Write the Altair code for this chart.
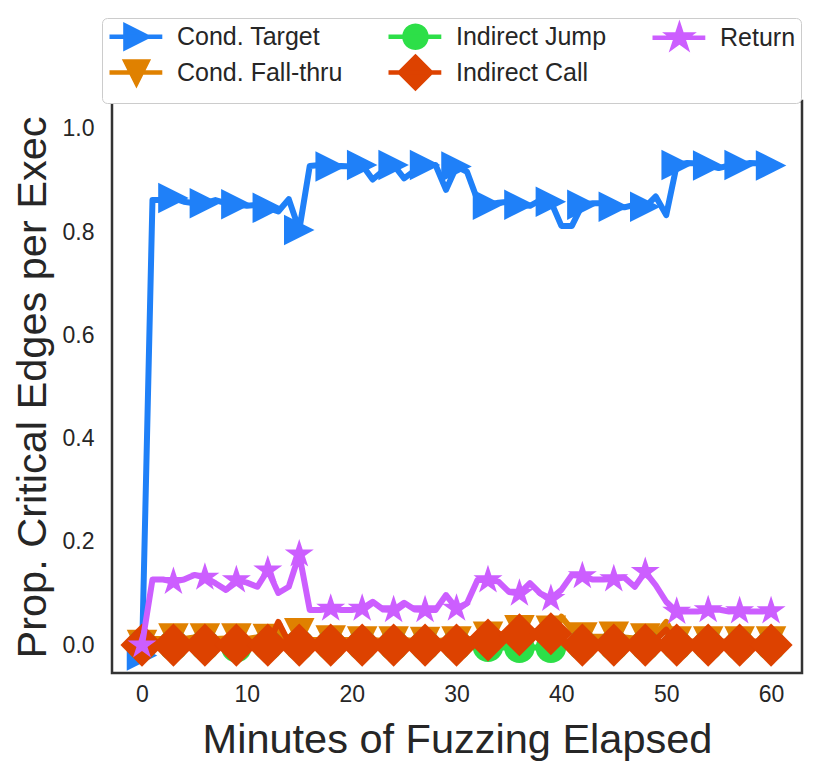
import math
import altair as alt
import pandas as pd

# ---------------- data ----------------
minutes = list(range(61))

cond_target = [-0.02, 0.862, 0.862, 0.866, 0.859, 0.856, 0.856, 0.862, 0.856, 0.854,
               0.851, 0.853, 0.847, 0.840, 0.864, 0.804, 0.928, 0.930, 0.927, 0.928,
               0.927, 0.930, 0.902, 0.919, 0.930, 0.904, 0.919, 0.930, 0.930, 0.882,
               0.927, 0.917, 0.862, 0.853, 0.857, 0.859, 0.853, 0.851, 0.862, 0.859,
               0.812, 0.812, 0.853, 0.856, 0.856, 0.849, 0.848, 0.853, 0.849, 0.869,
               0.833, 0.930, 0.934, 0.933, 0.929, 0.924, 0.929, 0.930, 0.934, 0.933,
               0.929]

cond_fallthru = [0.0, 0.012, 0.012, 0.013, 0.012, 0.015, 0.013, 0.012, 0.013, 0.013,
                 0.012, 0.015, 0.012, 0.025, 0.010, 0.023, 0.010, 0.010, 0.009, 0.010,
                 0.010, 0.007, 0.010, 0.008, 0.007, 0.010, 0.008, 0.006, 0.007, 0.010,
                 0.007, 0.010, 0.015, 0.016, 0.020, 0.025, 0.029, 0.025, 0.028, 0.028,
                 0.055, 0.030, 0.015, 0.016, 0.016, 0.016, 0.015, 0.013, 0.013, 0.020,
                 0.045, 0.007, 0.007, 0.007, 0.007, 0.007, 0.007, 0.007, 0.007, 0.007,
                 0.007]

indirect_jump = [0.0, 0.0, 0.0, 0.0, 0.0, 0.0, 0.0, 0.0, 0.0, -0.004,
                 0.0, 0.0, 0.0, 0.0, 0.0, 0.0, 0.0, 0.0, 0.0, 0.0,
                 0.0, 0.0, 0.0, 0.0, 0.0, 0.0, 0.0, 0.0, 0.0, 0.0,
                 0.0, 0.0, 0.0, -0.003, -0.004, -0.005, -0.005, -0.004, -0.005, -0.005,
                 -0.003, 0.0, 0.0, 0.0, 0.0, 0.0, 0.0, 0.0, 0.0, 0.0,
                 0.0, 0.0, 0.0, 0.0, 0.0, 0.0, 0.0, 0.0, 0.0, 0.0,
                 0.0]

indirect_call = [0.0, 0.0, 0.0, 0.0, 0.0, 0.0, 0.0, 0.0, 0.0, 0.0,
                 0.0, 0.0, 0.0, 0.045, 0.005, 0.0, 0.0, 0.0, 0.0, 0.0,
                 0.0, 0.0, 0.0, 0.0, 0.0, 0.0, 0.0, 0.0, 0.0, 0.0,
                 0.0, 0.0, 0.0, 0.010, 0.015, 0.020, 0.020, 0.018, 0.020, 0.022,
                 0.010, 0.0, 0.0, 0.0, 0.0, 0.0, 0.0, 0.0, 0.0, 0.010,
                 0.030, 0.0, 0.0, 0.0, 0.0, 0.0, 0.0, 0.0, 0.0, 0.0,
                 0.0]

ret = [0.0, 0.127, 0.127, 0.123, 0.127, 0.136, 0.131, 0.120, 0.107, 0.126,
       0.121, 0.113, 0.145, 0.101, 0.113, 0.176, 0.068, 0.068, 0.071, 0.068,
       0.068, 0.071, 0.084, 0.069, 0.068, 0.082, 0.069, 0.068, 0.068, 0.097,
       0.071, 0.081, 0.126, 0.126, 0.123, 0.103, 0.100, 0.120, 0.100, 0.090,
       0.107, 0.136, 0.134, 0.127, 0.127, 0.128, 0.131, 0.113, 0.142, 0.116,
       0.084, 0.065, 0.065, 0.065, 0.068, 0.069, 0.065, 0.066, 0.065, 0.065,
       0.066]

series_names = ["Cond. Target", "Cond. Fall-thru", "Indirect Jump", "Indirect Call", "Return"]
series_values = [cond_target, cond_fallthru, indirect_jump, indirect_call, ret]
series_colors = ["#1f80f8", "#e08100", "#2ddf48", "#dd4200", "#cc5eff"]
x_ticks = [0, 10, 20, 30, 40, 50, 60]
y_ticks = [0.0, 0.2, 0.4, 0.6, 0.8, 1.0]

rows = []
for name, vals in zip(series_names, series_values):
    for m, v in zip(minutes, vals):
        rows.append({"minute": m, "value": v, "series": name})
df = pd.DataFrame(rows)

# ---------------- marker shapes ----------------
def poly(points, dx=0.0):
    return "M" + "L".join(f"{x + dx:.3f},{y:.3f}" for x, y in points) + "Z"

def star_points():
    pts = []
    for k in range(10):
        r = 1.0 if k % 2 == 0 else 0.382
        a = math.radians(-90 + 36 * k)
        pts.append((r * math.cos(a), r * math.sin(a)))
    return pts

def circle_points():
    return [(math.cos(math.radians(a)), math.sin(math.radians(a))) for a in range(0, 360, 15)]

shape_pts = {
    "Cond. Target": [(1, 0), (-1, -1), (-1, 1)],
    "Cond. Fall-thru": [(0, 1), (-1, -1), (1, -1)],
    "Indirect Jump": circle_points(),
    "Indirect Call": [(0, -1.414), (1.414, 0), (0, 1.414), (-1.414, 0)],
    "Return": star_points(),
}

def marker_path(name, dx=0.0):
    return poly(shape_pts[name], dx)

# legend symbols: a line segment with the marker on it
LC = 1.45
def legend_path(name):
    return f"M-1,0L{LC + 2.35:.2f},0" + marker_path(name, LC)

FONT = "Liberation Sans"
TEXT = "#262626"
MARKER_SIZE = 930

# plotting colour scale and legend scales use differently ordered domains so the
# visible legend is not merged into the hidden colour legend
color_scale = alt.Scale(domain=series_names[::-1], range=series_colors[::-1])
legend_color_scale = alt.Scale(domain=series_names, range=series_colors)
shape_scale = alt.Scale(domain=series_names, range=[legend_path(n) for n in series_names])

legend = alt.Legend(
    title=None,
    orient="none",
    direction="vertical",
    legendX=-10,
    legendY=-83,
    columns=3,
    columnPadding=36,
    rowPadding=-10,
    padding=5,
    strokeColor="#cccccc",
    fillColor="white",
    cornerRadius=5,
    labelFont=FONT,
    labelFontSize=25,
    labelColor=TEXT,
    labelOffset=43,
    labelLimit=400,
    symbolSize=484,
    symbolStrokeWidth=4.5,
)

x_enc = alt.X("minute:Q",
              scale=alt.Scale(domain=[-2.86, 62.95], nice=False, zero=False),
              axis=alt.Axis(values=x_ticks, title="Minutes of Fuzzing Elapsed",
                            format="d", labelPadding=10, titlePadding=13))
y_enc = alt.Y("value:Q",
              scale=alt.Scale(domain=[-0.054, 1.054], nice=False, zero=False),
              axis=alt.Axis(values=y_ticks, title="Prop. Critical Edges per Exec",
                            format=".1f", labelPadding=18, titlePadding=8))
c_enc = alt.Color("series:N", scale=color_scale, legend=None)

base = alt.Chart(df)
layers = []
for name in series_names:
    sub = base.transform_filter(alt.datum.series == name)
    layers.append(
        sub.mark_line(strokeWidth=6, strokeJoin="round", strokeCap="round")
        .encode(x=x_enc, y=y_enc, color=c_enc)
    )
    shape = "circle" if name == "Indirect Jump" else marker_path(name)
    layers.append(
        sub.transform_filter("datum.minute % 3 == 0")
        .mark_point(shape=shape, filled=True, size=MARKER_SIZE, opacity=1, strokeWidth=0)
        .encode(x=x_enc, y=y_enc, color=c_enc)
    )

# legend-only layer: its marks sit outside the canvas
legend_layer = (
    base.transform_filter("datum.minute == 0")
    .mark_point(filled=True, strokeWidth=4.5, size=484, opacity=1)
    .encode(
        x=alt.value(-1000),
        y=alt.value(-1000),
        fill=alt.Fill("series:N", scale=legend_color_scale, legend=legend),
        stroke=alt.Stroke("series:N", scale=legend_color_scale, legend=legend),
        shape=alt.Shape("series:N", scale=shape_scale, legend=legend),
    )
)
layers.append(legend_layer)

chart = (
    alt.layer(*layers)
    .properties(
        width=690,
        height=572,
        autosize=alt.AutoSizeParams(type="none"),
        padding={"left": 104, "top": 93, "right": 20, "bottom": 94},
    )
    .configure(font=FONT)
    .configure_view(stroke="#333333", strokeWidth=2.5)
    .configure_axis(
        grid=False,
        domain=False,
        ticks=False,
        labelFont=FONT,
        labelFontSize=23,
        labelColor=TEXT,
        titleFont=FONT,
        titleFontSize=41.5,
        titleFontWeight="normal",
        titleColor=TEXT,
    )
)

chart.save("out.html", embed_options={"renderer": "svg", "actions": False})
